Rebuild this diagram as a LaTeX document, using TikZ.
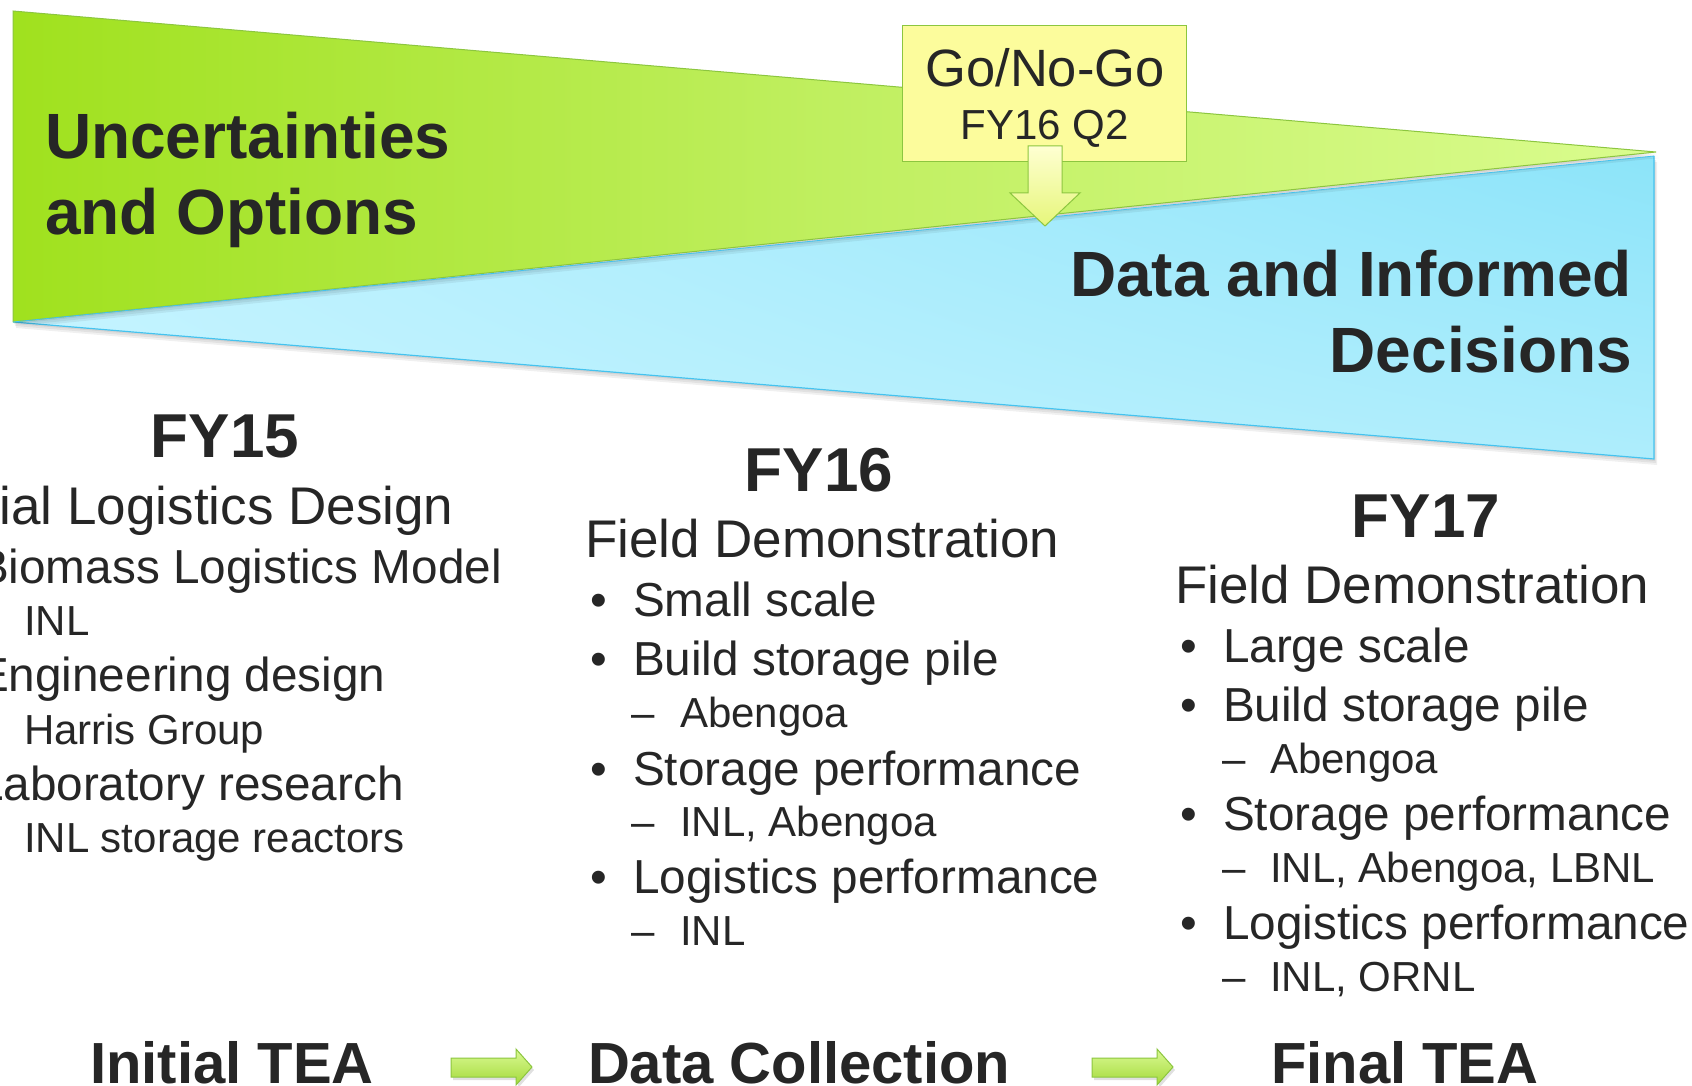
\documentclass[tikz,border=0pt]{standalone}
\usepackage{fontspec}
\setmainfont{Liberation Sans}
\usetikzlibrary{shadings}
\definecolor{ink}{HTML}{262626}
\definecolor{gL}{HTML}{A0E11E}
\definecolor{gM}{HTML}{C0EF60}
\definecolor{gR}{HTML}{DAFC8E}
\definecolor{gEdge}{HTML}{8CC63F}
\definecolor{bUL}{HTML}{C0F2FF}
\definecolor{bLL}{HTML}{C8F5FF}
\definecolor{bUR}{HTML}{8CE4F9}
\definecolor{bLR}{HTML}{AEEDFC}
\definecolor{bEdge}{HTML}{45C3EF}
\definecolor{boxY}{HTML}{FCFC9C}
\definecolor{arrTop}{HTML}{FFFFD2}
\definecolor{arrBot}{HTML}{E6F67A}
\definecolor{teaTop}{HTML}{DAF994}
\definecolor{teaBot}{HTML}{A4DA3A}
\tikzset{
  lbl/.style={inner sep=0pt, outer sep=0pt, text=ink},
  bigbold/.style={lbl, font=\fontsize{64}{64}\selectfont\bfseries},
  yearhd/.style={lbl, font=\fontsize{62}{62}\selectfont\bfseries, anchor=base},
  ttl/.style={lbl, font=\fontsize{53}{53}\selectfont, anchor=base west},
  itm/.style={lbl, font=\fontsize{47.7}{48}\selectfont, anchor=base west},
  subitm/.style={lbl, font=\fontsize{42}{42}\selectfont, anchor=base west},
  tea/.style={lbl, font=\fontsize{58}{58}\selectfont\bfseries, anchor=base west},
  gngtxt/.style={lbl, anchor=base},
  teaarrow/.style={draw=gEdge, line width=1pt, top color=teaTop, bottom color=teaBot},
  shadowfill/.style={fill=black, opacity=0.06},
}
\begin{document}
\begin{tikzpicture}[x=1pt,y=-1pt]
\useasboundingbox (0,0) rectangle (1692,1086);
\clip (0,0) rectangle (1692,1086);
\fill[white] (0,0) rectangle (1692,1086);

% shadows of the wedges
\foreach \d in {2,4,6}{
  \fill[shadowfill, shift={(0.5*\d,\d)}] (13,322) -- (1654,156) -- (1654,459) -- cycle;
}
% blue wedge
\shade[upper left=bUL, lower left=bLL, upper right=bUR, lower right=bLR]
  (13,322) -- (1654,156) -- (1654,459) -- cycle;
\draw[bEdge, line width=1.2pt] (13,322) -- (1654,459) -- (1654,156);
% shadow of green wedge on blue
\foreach \d in {2,4,6}{
  \fill[shadowfill, shift={(0.5*\d,\d)}] (13,11) -- (1656,152) -- (13,322) -- cycle;
}
% green wedge
\shade[left color=gL, right color=gR, middle color=gM]
  (13,11) -- (1656,152) -- (13,322) -- cycle;
\draw[gEdge, line width=1pt] (13,322) -- (13,11) -- (1656,152) -- (13,322);
\draw[bEdge, line width=0.8pt] (13,322) -- (1654,156);

% wedge labels
\node[bigbold, anchor=base west] (unc1) at (45,159) {Uncertainties};
\node[bigbold, anchor=base west] (unc2) at (45,234) {and Options};
\node[bigbold, anchor=base east] (dat1) at (1632,296) {Data and Informed};
\node[bigbold, anchor=base east] (dat2) at (1632,372) {Decisions};

% Go/No-Go box
\node[draw=gEdge, fill=boxY, line width=1pt, minimum width=284pt, minimum height=136pt, inner sep=0pt]
  (gng) at (1044.5,93.5) {};
\node[gngtxt, font=\fontsize{52.5}{53}\selectfont] (gng1) at (1045,87) {Go/No-Go};
\node[gngtxt, font=\fontsize{42}{42}\selectfont] (gng2) at (1045,140) {FY16 Q2};
% down arrow
\draw[draw=gEdge, line width=1pt, top color=arrTop, bottom color=arrBot]
  (1028,146) -- (1062,146) -- (1062,193) -- (1080,193) -- (1045,226)
  -- (1010,193) -- (1028,193) -- cycle;

% FY15 column (its left part lies beyond the picture's edge, as in the reference)
\node[yearhd] (fy15) at (225,457) {FY15};
\node[ttl] (c1t) at (-71,524) {Initial Logistics Design};
\node[itm] (c1i1) at (-23,583) {Biomass Logistics Model};
\node[subitm] (c1s1) at (24,635) {INL};
\node[itm] (c1i2) at (-23,691) {Engineering design};
\node[subitm] (c1s2) at (24,744) {Harris Group};
\node[itm] (c1i3) at (-23,800) {Laboratory research};
\node[subitm] (c1s3) at (24,852) {INL storage reactors};

% FY16 column
\node[yearhd] (fy16) at (819,491) {FY16};
\node[ttl] (c2t) at (585,557) {Field Demonstration};
\node[itm] (c2b1) at (590,616) {•};
\node[itm] (c2i1) at (633,616) {Small scale};
\node[itm] (c2b2) at (590,675) {•};
\node[itm] (c2i2) at (633,675) {Build storage pile};
\node[subitm] (c2d1) at (631,727) {–};
\node[subitm] (c2s1) at (680,727) {Abengoa};
\node[itm] (c2b3) at (590,785) {•};
\node[itm] (c2i3) at (633,785) {Storage performance};
\node[subitm] (c2d2) at (631,836) {–};
\node[subitm] (c2s2) at (680,836) {INL, Abengoa};
\node[itm] (c2b4) at (590,893) {•};
\node[itm] (c2i4) at (633,893) {Logistics performance};
\node[subitm] (c2d3) at (631,945) {–};
\node[subitm] (c2s3) at (680,945) {INL};

% FY17 column
\node[yearhd] (fy17) at (1426,537) {FY17};
\node[ttl] (c3t) at (1175,603) {Field Demonstration};
\node[itm] (c3b1) at (1180,662) {•};
\node[itm] (c3i1) at (1223,662) {Large scale};
\node[itm] (c3b2) at (1180,721) {•};
\node[itm] (c3i2) at (1223,721) {Build storage pile};
\node[subitm] (c3d1) at (1222,773) {–};
\node[subitm] (c3s1) at (1270,773) {Abengoa};
\node[itm] (c3b3) at (1180,830) {•};
\node[itm] (c3i3) at (1223,830) {Storage performance};
\node[subitm] (c3d2) at (1222,882) {–};
\node[subitm] (c3s2) at (1270,882) {INL, Abengoa, LBNL};
\node[itm] (c3b4) at (1180,939) {•};
\node[itm] (c3i4) at (1223,939) {Logistics performance};
\node[subitm] (c3d3) at (1222,991) {–};
\node[subitm] (c3s3) at (1270,991) {INL, ORNL};

% bottom row
\node[tea] (tea1) at (90,1083) {Initial TEA};
\node[tea] (tea2) at (588,1083) {Data Collection};
\node[tea] (tea3) at (1271,1083) {Final TEA};
\foreach \dx in {0,641}{
  \begin{scope}[shift={(\dx,0)}]
    \fill[black, opacity=0.12, shift={(2,3)}]
      (451,1058) -- (516,1058) -- (516,1049) -- (532,1067) -- (516,1085) -- (516,1077) -- (451,1077) -- cycle;
    \draw[teaarrow]
      (451,1058) -- (516,1058) -- (516,1049) -- (532,1067) -- (516,1085) -- (516,1077) -- (451,1077) -- cycle;
  \end{scope}
}
\end{tikzpicture}
\end{document}
